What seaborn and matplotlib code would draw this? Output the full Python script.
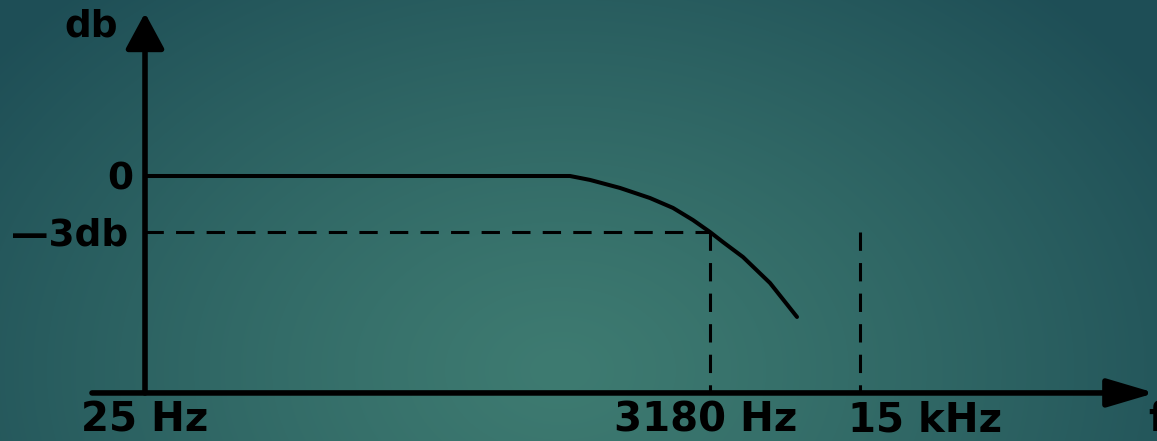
import numpy as np
import matplotlib.pyplot as plt
import seaborn as sns

sns.set_theme(style='white')
plt.rcParams['font.family'] = ['DejaVu Sans']

# response curve: position along the frequency axis and level in db
curve_x = [145, 570, 590, 620, 650, 673, 693, 710, 723, 743, 770, 797]
curve_db = [0, 0, -0.21, -0.64, -1.18, -1.71, -2.36, -3.0, -3.54, -4.34, -5.73, -7.55]

freq_labels = ['25 Hz', '3180 Hz', '15 kHz']
freq_pos = [145, 710, 860]
level_labels = ['0', '—3db']
level_db = [0, -3]
cutoff_pos = 710
band_edge_pos = 860

# axis extents
x_start, x_end = 92, 1155
y_bottom, y_top = -11.62, 8.73

W, H = 1157, 441
PX = 18.67  # pixels per db
fig = plt.figure(figsize=(W / 100, H / 100), dpi=100)

# teal radial background
bg = fig.add_axes([0, 0, 1, 1])
yy, xx = np.mgrid[0:H, 0:W]
r = np.sqrt(((xx - 560) / 720) ** 2 + ((yy - 370) / 520) ** 2)
r = np.clip(r, 0, 1) ** 1.2
c_in = np.array([62, 123, 113]) / 255
c_out = np.array([30, 78, 86]) / 255
img = c_in[None, None, :] * (1 - r[..., None]) + c_out[None, None, :] * r[..., None]
bg.imshow(img, aspect='auto', extent=[0, W, H, 0])
bg.axis('off')

ax = fig.add_axes([0, 0, 1, 1])
ax.patch.set_alpha(0)
ymin = -(H - 176) / PX
ax.set_xlim(0, W)
ax.set_ylim(ymin, 176 / PX)
ax.axis('off')

sns.lineplot(x=curve_x, y=curve_db, color='black', lw=2.9, ax=ax, sort=False,
             solid_joinstyle='round')

dash = dict(color='black', lw=2.2, dashes=(6, 4))
ax.plot([freq_pos[0], cutoff_pos], [-3, -3], **dash)
ax.plot([cutoff_pos, cutoff_pos], [-3, y_bottom], **dash)
ax.plot([band_edge_pos, band_edge_pos], [-3, y_bottom], **dash)

# axes with arrows
ax.annotate('', xy=(x_end, y_bottom), xytext=(x_start, y_bottom),
            arrowprops=dict(arrowstyle='-|>,head_length=2.9,head_width=0.86',
                            mutation_scale=10, lw=4, color='black',
                            shrinkA=0, shrinkB=0))
ax.annotate('', xy=(freq_pos[0], y_top), xytext=(freq_pos[0], y_bottom),
            arrowprops=dict(arrowstyle='-|>,head_length=2.2,head_width=1.19',
                            mutation_scale=10, lw=4, color='black',
                            shrinkA=0, shrinkB=0))

left_font = dict(fontsize=27, fontweight='bold', color='black')
ax.text(118, 8.03, 'db', ha='right', va='center', **left_font)
label_x = [133, 128]
for lab, db, lx in zip(level_labels, level_db, label_x):
    ax.text(lx, db - 0.2, lab, ha='right', va='center', **left_font)

# bottom labels sit right at the lower edge, kept just inside the figure
font = dict(fontsize=29, fontweight='bold', color='black')
label_cx = [144.5, 705.5, 924.5]
for lab, cx in zip(freq_labels, label_cx):
    ax.text(cx, ymin + 0.05, lab, ha='center', va='bottom', **font)
ax.text(1148, ymin + 0.05, 'f', ha='left', va='bottom', **font)

fig.savefig('out.png', dpi=100)
